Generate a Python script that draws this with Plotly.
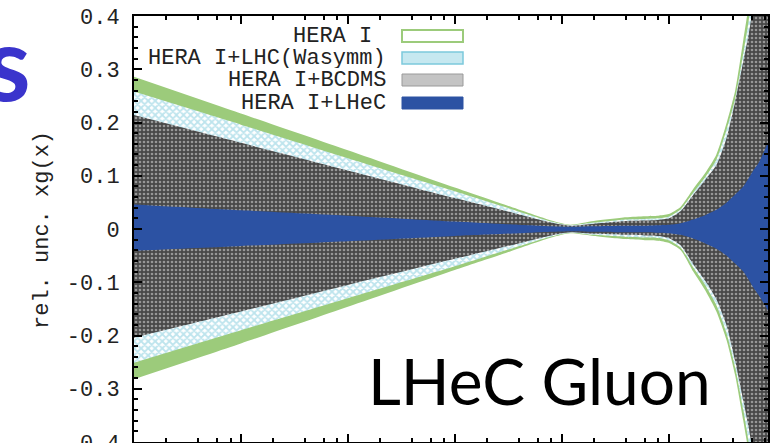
import plotly.graph_objects as go

# ---- data ----
x_vals = [1e-6, 1e-5, 1e-4, 1e-3, 3e-3, 0.008, 0.012, 0.02, 0.04, 0.06, 0.08, 0.1,
          0.13, 0.17, 0.22, 0.28, 0.35, 0.42, 0.5, 0.56, 0.62, 0.7, 0.78, 0.87]

hera_up = [0.286, 0.217, 0.148, 0.078, 0.045, 0.016, 0.008, 0.015, 0.022, 0.024, 0.025, 0.028,
           0.042, 0.075, 0.105, 0.14, 0.2, 0.26, 0.355, 0.42, 0.5, 0.6, 0.7, 0.8]
hera_lo = [-0.282, -0.215, -0.146, -0.077, -0.045, -0.016, -0.008, -0.013, -0.019, -0.021, -0.022, -0.026,
           -0.04, -0.08, -0.115, -0.155, -0.21, -0.275, -0.36, -0.42, -0.5, -0.6, -0.7, -0.8]

lhc_up = [0.258, 0.196, 0.133, 0.071, 0.041, 0.014, 0.007, 0.012, 0.018, 0.019, 0.020, 0.023,
          0.037, 0.068, 0.097, 0.13, 0.188, 0.245, 0.33, 0.39, 0.47, 0.56, 0.66, 0.75]
lhc_lo = [-0.251, -0.19, -0.13, -0.07, -0.04, -0.014, -0.007, -0.011, -0.015, -0.016, -0.017, -0.021,
          -0.035, -0.072, -0.105, -0.143, -0.197, -0.26, -0.34, -0.40, -0.48, -0.57, -0.67, -0.76]

bcdms_up = [0.214, 0.162, 0.110, 0.058, 0.034, 0.012, 0.006, 0.010, 0.015, 0.016, 0.017, 0.020,
            0.034, 0.064, 0.092, 0.12, 0.172, 0.24, 0.315, 0.365, 0.42, 0.5, 0.6, 0.7]
bcdms_lo = [-0.204, -0.155, -0.105, -0.056, -0.033, -0.012, -0.006, -0.009, -0.011, -0.012, -0.013, -0.017,
            -0.031, -0.066, -0.097, -0.132, -0.182, -0.248, -0.322, -0.372, -0.425, -0.5, -0.6, -0.7]

lhec_up = [0.046, 0.035, 0.025, 0.014, 0.009, 0.005, 0.004, 0.005, 0.006, 0.006, 0.007, 0.008,
           0.011, 0.018, 0.026, 0.036, 0.05, 0.065, 0.08, 0.095, 0.11, 0.125, 0.145, 0.165]
lhec_lo = [-0.041, -0.032, -0.023, -0.013, -0.009, -0.005, -0.004, -0.005, -0.006, -0.006, -0.007, -0.008,
           -0.011, -0.018, -0.027, -0.037, -0.05, -0.065, -0.08, -0.095, -0.11, -0.125, -0.14, -0.155]

series_names = ["HERA I", "HERA I+LHC(Wasymm)", "HERA I+BCDMS", "HERA I+LHeC"]

y_tickvals = [-0.4, -0.3, -0.2, -0.1, 0, 0.1, 0.2, 0.3, 0.4]
y_ticktext = ["-0.4", "-0.3", "-0.2", "-0.1", "0", "0.1", "0.2", "0.3", "0.4"]
x_major = [1e-6, 1e-5, 1e-4, 1e-3, 1e-2, 1e-1]
x_minor = [m * d for d in x_major for m in (2, 4, 6, 8)]

# ---- styling ----
GREEN = "#9ccb7b"
CYAN = "#7cc9db"
GRAY_BG = "#484848"
BLUE = "#2c52a3"
MONO = "Liberation Mono, Courier New, monospace"

fig = go.Figure()


def band(up, lo, name, **kw):
    xs = list(x_vals) + list(reversed(x_vals))
    ys = list(up) + list(reversed(lo))
    fig.add_trace(go.Scatter(x=xs, y=ys, mode="lines", fill="toself", name=name,
                             line=dict(width=0, shape="spline", smoothing=0.6),
                             hoverinfo="skip", showlegend=False, **kw))


band(hera_up, hera_lo, series_names[0], fillcolor=GREEN)
band(lhc_up, lhc_lo, series_names[1], fillcolor="white",
     fillpattern=dict(shape="x", fgcolor=CYAN, bgcolor="white", size=5, solidity=0.6))
band(bcdms_up, bcdms_lo, series_names[2], fillcolor=GRAY_BG,
     fillpattern=dict(shape=".", fgcolor="#e6e6e6", bgcolor=GRAY_BG, size=4, solidity=0.35))
band(lhec_up, lhec_lo, series_names[3], fillcolor=BLUE)

# ---- plot-area geometry (pixels) ----
L, R, T, B = 134, 768, 16, 442
W, H = 780, 443


def px(xp):
    return (xp - L) / (R - L)


def py(yp):
    return (B - yp) / (B - T)


annotations = []
shapes = []

# legend (gnuplot-style: right-justified text, sample box at right)
leg_rows_y = [36, 58, 80, 103]
leg_text_right = [374, 388, 388, 388]
for name, yc, xr in zip(series_names, leg_rows_y, leg_text_right):
    annotations.append(dict(x=px(xr), y=py(yc), xref="paper", yref="paper", text=name,
                            showarrow=False, xanchor="right", yanchor="middle", height=20,
                            font=dict(family=MONO, size=22, color="#222222")))
box_styles = [
    dict(fillcolor="white", line=dict(color=GREEN, width=2)),
    dict(fillcolor="#c6e8f0", line=dict(color=CYAN, width=1.5)),
    dict(fillcolor="#c4c4c4", line=dict(color="#9a9a9a", width=1)),
    dict(fillcolor=BLUE, line=dict(color=BLUE, width=1)),
]
for yc, st in zip(leg_rows_y, box_styles):
    shapes.append(dict(type="rect", xref="paper", yref="paper",
                       x0=px(402), x1=px(463), y0=py(yc + 6), y1=py(yc - 6), **st))

# y-axis title
annotations.append(dict(x=px(43), y=py(230), xref="paper", yref="paper",
                        text="rel. unc. xg(x)", textangle=-90, showarrow=False,
                        xanchor="center", yanchor="middle",
                        font=dict(family=MONO, size=22, color="#222222")))
# overlay text from the slide
annotations.append(dict(x=px(366), y=py(380), xref="paper", yref="paper",
                        text="LHeC Gluon", showarrow=False, xanchor="left", yanchor="middle",
                        font=dict(family="Lato, Open Sans, sans-serif", size=64, color="black")))
annotations.append(dict(x=px(33), y=py(60), xref="paper", yref="paper",
                        text="<b>s</b>", showarrow=False, xanchor="right", yanchor="middle",
                        font=dict(family="Lato, Open Sans, sans-serif", size=104, color="#3a34cc")))

fig.update_layout(
    width=W, height=H,
    margin=dict(l=L, r=W - R, t=T, b=H - B, autoexpand=False),
    paper_bgcolor="white", plot_bgcolor="white",
    showlegend=False,
    annotations=annotations, shapes=shapes,
    xaxis=dict(type="log", range=[-6, -0.07], showgrid=False, zeroline=False,
               automargin=False,
               showline=True, linecolor="black", linewidth=2, mirror="allticks",
               tickmode="array", tickvals=x_major, showticklabels=False,
               ticks="inside", ticklen=8, tickwidth=1.5, tickcolor="black",
               minor=dict(tickmode="array", tickvals=x_minor, ticks="inside",
                          ticklen=4, tickwidth=1.5, tickcolor="black")),
    yaxis=dict(range=[-0.4, 0.4], showgrid=False, zeroline=False,
               automargin=False,
               showline=True, linecolor="black", linewidth=2, mirror="allticks",
               tickmode="array", tickvals=y_tickvals, ticktext=y_ticktext,
               ticks="inside", ticklen=8, tickwidth=1.5, tickcolor="black",
               ticklabelstandoff=8, ticklabeloverflow="allow",
               tickfont=dict(family=MONO, size=22, color="#222222"),
               minor=dict(dtick=0.02, ticks="inside", ticklen=4, tickwidth=1.5,
                          tickcolor="black")),
)

fig.write_html("out.html")
